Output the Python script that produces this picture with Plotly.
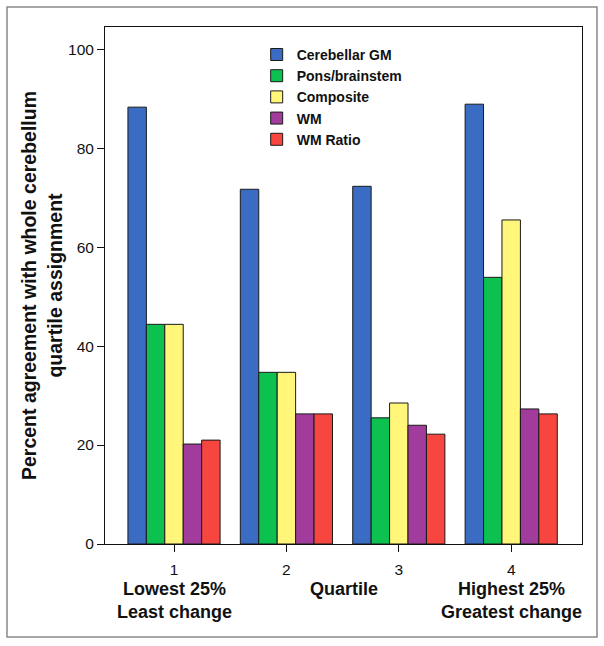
import plotly.graph_objects as go

# categories / series
quartiles = [1, 2, 3, 4]
quartile_text = ["Lowest 25%<br>Least change", "Quartile", "Highest 25%<br>Greatest change"]
series_names = ["Cerebellar GM", "Pons/brainstem", "Composite", "WM", "WM Ratio"]
cerebellar_gm = [88.3, 71.7, 72.3, 88.9]
pons_brainstem = [44.4, 34.7, 25.5, 53.9]
composite = [44.4, 34.7, 28.5, 65.5]
wm = [20.2, 26.3, 24.0, 27.3]
wm_ratio = [21.0, 26.3, 22.2, 26.3]
y_ticks = [0, 20, 40, 60, 80, 100]

colors = ["#3b6cc3", "#0cc150", "#fff67a", "#a23c9c", "#f7453f"]

W, H = 604, 646
ML, MR, MT, MB = 105, 22, 27, 102
PW, PH = W - ML - MR, H - MT - MB

fig = go.Figure()
for name, vals, col in zip(series_names,
                           [cerebellar_gm, pons_brainstem, composite, wm, wm_ratio],
                           colors):
    fig.add_trace(go.Bar(x=quartiles, y=vals, name="<b>" + name + "</b>",
                         marker=dict(color=col, line=dict(color="#1a1a1a", width=1))))

fig.update_layout(
    width=W, height=H, autosize=False,
    margin=dict(l=ML, r=MR, t=MT, b=MB, pad=0),
    paper_bgcolor="white", plot_bgcolor="white",
    font=dict(family="Arial, Liberation Sans, sans-serif", color="#111"),
    barmode="group", bargap=0.18, bargroupgap=0,
    xaxis=dict(range=[0.386, 4.63], tickvals=quartiles, ticks="outside", ticklen=7,
               ticklabelstandoff=4,
               tickcolor="#111", tickfont=dict(size=15.5), showline=True, linecolor="#111",
               linewidth=1, mirror=True, showgrid=False, zeroline=False),
    yaxis=dict(range=[0, 104.5], tickvals=y_ticks, ticks="outside", ticklen=7,
               tickcolor="#111", tickfont=dict(size=15.5), showline=True, linecolor="#111",
               linewidth=1, mirror=True, showgrid=False, zeroline=False,
               title=dict(text="<b>Percent agreement with whole cerebellum<br>quartile assignment</b>",
                          font=dict(size=19.5), standoff=0)),
    legend=dict(x=0.318, y=0.977, xanchor="left", yanchor="top",
                font=dict(size=14, family="Arial, Liberation Sans, sans-serif"),
                bgcolor="rgba(0,0,0,0)", tracegroupgap=0, itemclick=False),
)

# quartile descriptors under the axis (first lines share one baseline)
ann_x = [1, 2.51, 4.0]
for xv, txt in zip(ann_x, quartile_text):
    fig.add_annotation(x=xv, xref="x", y=-0.064, yref="paper", yanchor="top",
                       text="<b>" + txt + "</b>", showarrow=False,
                       font=dict(size=18), align="center")

# outer frame
fig.add_shape(type="rect", xref="paper", yref="paper",
              x0=(7 - ML) / PW, x1=(597 - ML) / PW,
              y0=(H - MB - 637) / PH, y1=(H - MB - 7) / PH,
              line=dict(color="#8a8a8a", width=1.5))

# page body has a default 8px margin; drop it so the figure sits at the window origin
fig.write_html("out.html", config={"displayModeBar": False},
               post_script="document.body.style.margin='0';")
